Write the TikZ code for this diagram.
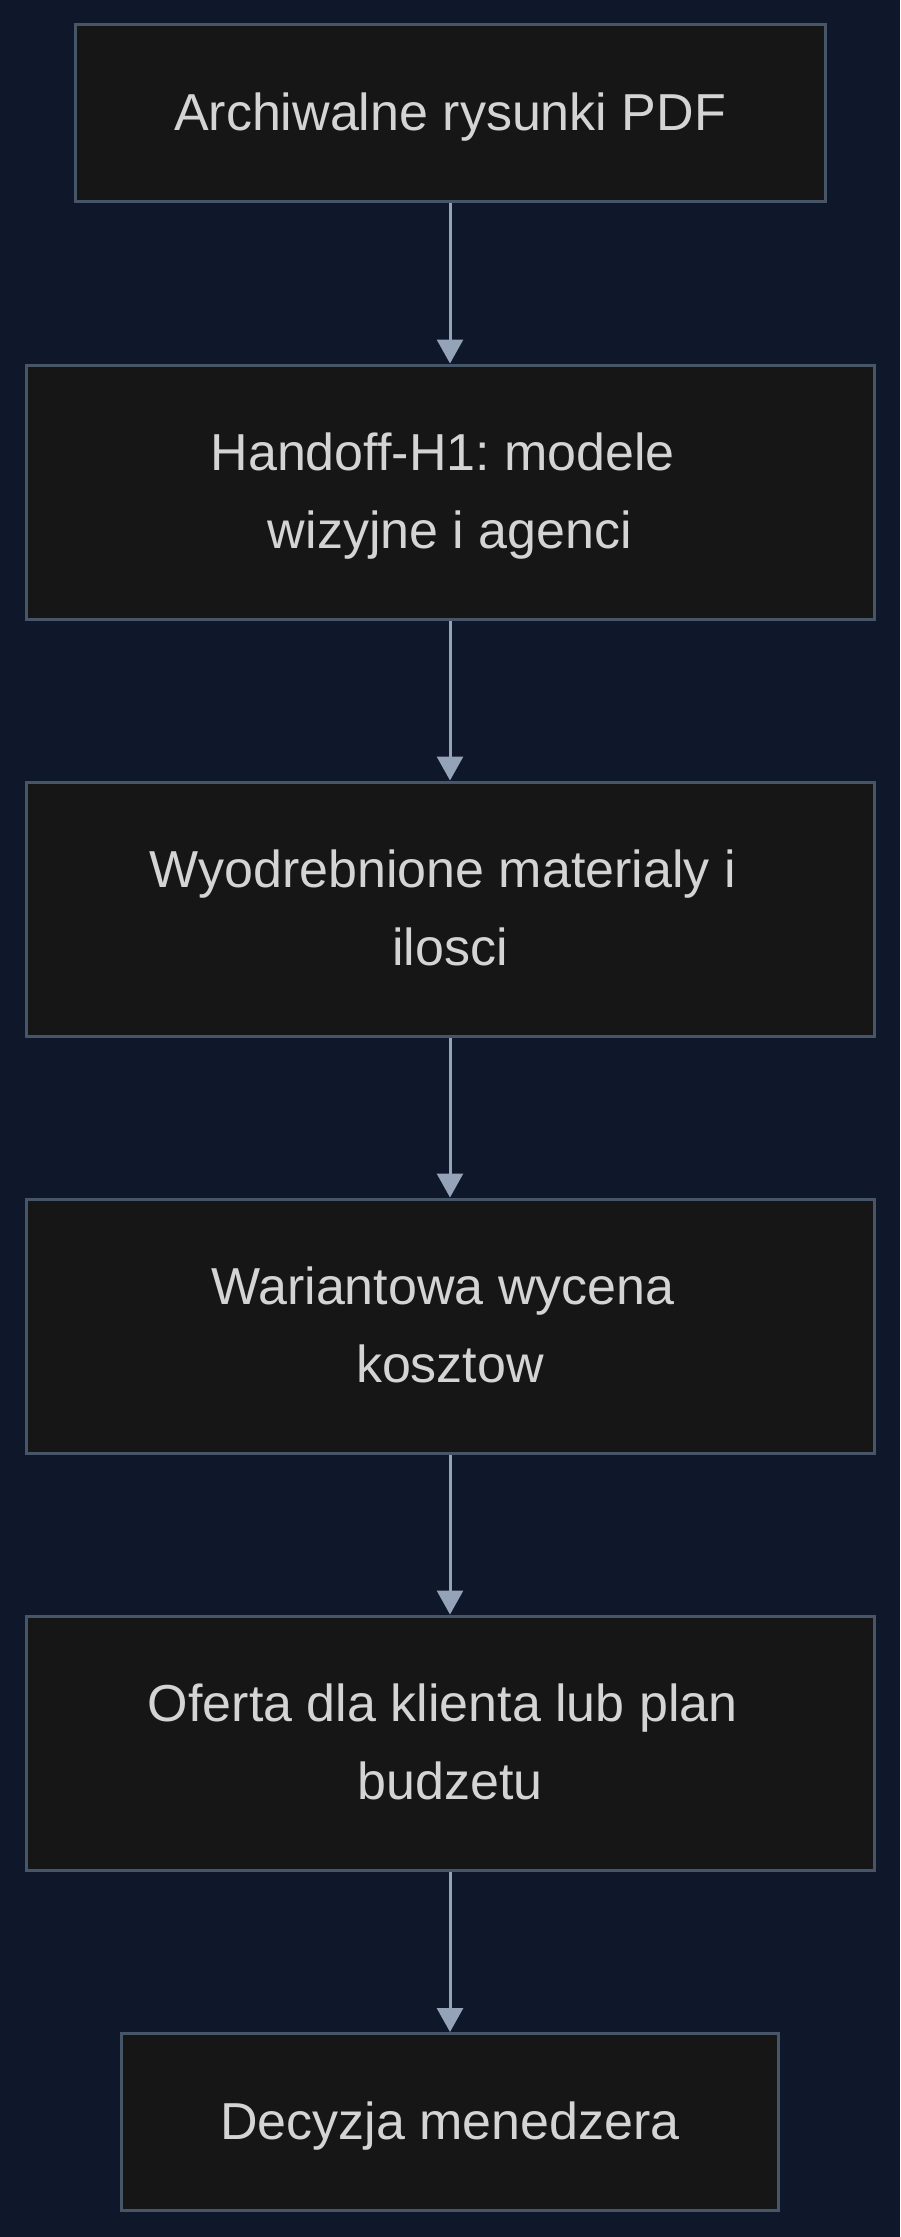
\documentclass[tikz,border=0pt]{standalone}
\usepackage{fontspec}
\setmainfont{Liberation Sans}
\usepackage{xcolor}
\usepackage{tikz}
\usetikzlibrary{arrows.meta}

\definecolor{canvas}{HTML}{0F172A}
\definecolor{boxfill}{HTML}{161616}
\definecolor{boxline}{HTML}{475569}
\definecolor{flowline}{HTML}{94A3B8}
\definecolor{boxtext}{HTML}{D4D4D4}

\newcommand{\rowstrut}{\rule[-22pt]{0pt}{78pt}}
\newcommand{\tailspace}{\mbox{\ }}
\frenchspacing

\begin{document}
\begin{tikzpicture}[x=1pt, y=-1pt,
    stage/.style={draw=boxline, fill=boxfill, line width=3pt, text=boxtext,
      align=center, inner sep=0pt, font=\fontsize{52pt}{78pt}\selectfont},
    flow/.style={draw=flowline, line width=3pt, {Triangle[length=24pt, width=26pt]}-}]
    \fill[canvas] (0, 0) rectangle (900, 2237);
    \useasboundingbox (0, 0) rectangle (900, 2237);

    \node (archive) at (450, 113.5)
      [stage, minimum height=177pt, minimum width=750pt]
      {\rowstrut Archiwalne rysunki PDF};

    \node (handoff) at (450, 492)
      [stage, minimum height=254pt, minimum width=848pt]
      {\rowstrut Handoff-H1: modele\tailspace \\ \rowstrut wizyjne i agenci}
      edge[flow] (archive);

    \node (quantities) at (450, 909)
      [stage, minimum height=254pt, minimum width=848pt]
      {\rowstrut Wyodrebnione materialy i\tailspace \\ \rowstrut ilosci}
      edge[flow] (handoff);

    \node (pricing) at (450, 1326)
      [stage, minimum height=254pt, minimum width=848pt]
      {\rowstrut Wariantowa wycena\tailspace \\ \rowstrut kosztow}
      edge[flow] (quantities);

    \node (offer) at (450, 1743)
      [stage, minimum height=254pt, minimum width=848pt]
      {\rowstrut Oferta dla klienta lub plan\tailspace \\ \rowstrut budzetu}
      edge[flow] (pricing);

    \node (decision) at (450, 2122)
      [stage, minimum height=177pt, minimum width=657pt]
      {\rowstrut Decyzja menedzera}
      edge[flow] (offer);
  \end{tikzpicture}
\end{document}
